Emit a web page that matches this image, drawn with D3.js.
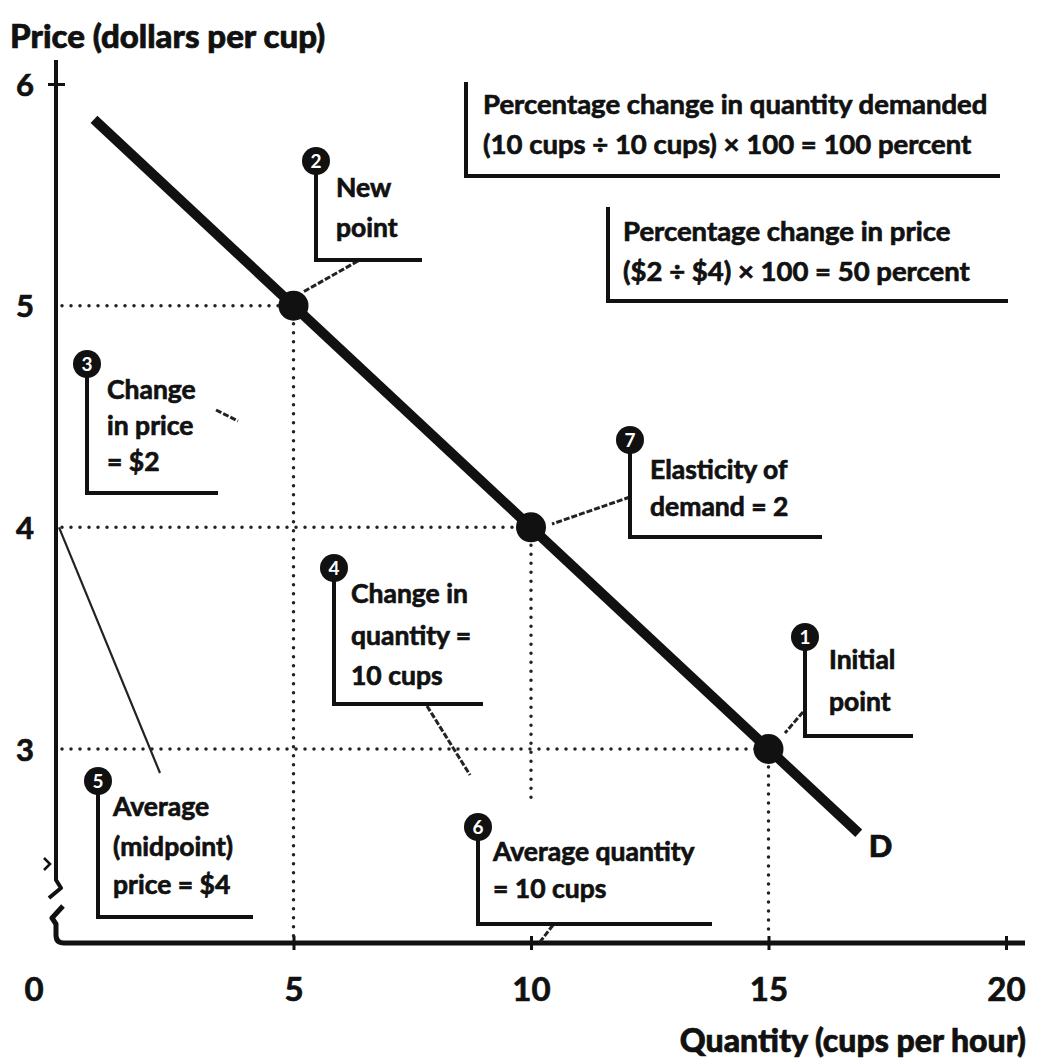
<!DOCTYPE html>
<html>
<head>
<meta charset="utf-8">
<script src="https://cdn.jsdelivr.net/npm/d3@7"></script>
<style>
  html, body { margin: 0; padding: 0; background: #fff; }
  svg text { font-family: Lato, "Open Sans", sans-serif; font-weight: 700; fill: #111; stroke: #111; stroke-width: 0.7px; }
</style>
</head>
<body>
<svg id="chart" width="1039" height="1063"></svg>
<script>
// ---------- data ----------
const xTickValues = [0, 5, 10, 15, 20];
const yTickValues = [3, 4, 5, 6];
const demandQuantity = [0.8, 16.9];      // cups per hour
const demandPrice = [5.84, 2.62];         // dollars per cup
const pointQuantity = [15, 5, 10];        // initial, new, midpoint
const pointPrice = [3, 5, 4];
const xTitle = "Quantity (cups per hour)";
const yTitle = "Price (dollars per cup)";
const demandLabel = "D";
const boxTexts = [
  ["Percentage change in quantity demanded", "(10 cups ÷ 10 cups) × 100 = 100 percent"],
  ["Percentage change in price", "($2 ÷ $4) × 100 = 50 percent"]
];
const calloutNumbers = ["1", "2", "3", "4", "5", "6", "7"];
const calloutTexts = [
  ["Initial", "point"],
  ["New", "point"],
  ["Change", "in price", "= $2"],
  ["Change in", "quantity =", "10 cups"],
  ["Average", "(midpoint)", "price = $4"],
  ["Average quantity", "= 10 cups"],
  ["Elasticity of", "demand = 2"]
];

// ---------- layout ----------
const svg = d3.select("#chart");
const x = d3.scaleLinear().domain([0, 20]).range([56, 1006]);
const y = d3.scaleLinear().domain([3, 6]).range([749, 84]);
const axisY = 943;     // x axis drawn on broken scale
const ink = "#111";

// axes
const g = svg.append("g");
g.append("path").attr("d", `M${x(0)},60 L${x(0)},880 L${x(0)+5},888 L${x(0)-7},898`)
  .attr("fill", "none").attr("stroke", ink).attr("stroke-width", 4).attr("stroke-linejoin", "round");
g.append("path").attr("d", `M${x(0)+7},906 L${x(0)-4},918 L${x(0)},924 L${x(0)},${axisY-8} Q${x(0)},${axisY} ${x(0)+8},${axisY} L1025,${axisY}`)
  .attr("fill", "none").attr("stroke", ink).attr("stroke-width", 5).attr("stroke-linejoin", "round");
g.append("path").attr("d", `M${x(0)-12},858 L${x(0)-6},864 L${x(0)-12},870`)
  .attr("fill", "none").attr("stroke", ink).attr("stroke-width", 2.5);

// x ticks
const xAxis = d3.axisBottom(x).tickValues(xTickValues.filter(d => d > 0)).tickSize(0).tickFormat(d3.format("d"));
const xa = g.append("g").attr("transform", `translate(0,${axisY})`).call(xAxis);
xa.select(".domain").remove();
xa.selectAll(".tick line").attr("y1", -7).attr("y2", 7).attr("stroke", ink).attr("stroke-width", 3);
xa.selectAll(".tick text").attr("dy", 0).attr("y", 58).style("font-size", "33px").style("font-family", "Lato, sans-serif").attr("fill", ink);
g.append("text").attr("x", x(0) - 22).attr("y", axisY + 58).attr("text-anchor", "middle").style("font-size", "33px").text(xTickValues[0]);

// y ticks
const yAxis = d3.axisLeft(y).tickValues(yTickValues).tickSize(0).tickFormat(d3.format("d"));
const ya = g.append("g").attr("transform", `translate(${x(0)},0)`).call(yAxis);
ya.select(".domain").remove();
ya.selectAll(".tick text").attr("x", -22).attr("dy", "0.36em").style("font-size", "31px").style("font-family", "Lato, sans-serif").attr("fill", ink);
ya.selectAll(".tick line").attr("x1", d => d === 6 ? -8 : 0).attr("x2", d => d === 6 ? 9 : 0).attr("stroke", ink).attr("stroke-width", 3);

// titles
svg.append("text").attr("x", 10).attr("y", 48).style("font-size", "33px").style("font-weight", 900).text(yTitle);
svg.append("text").attr("x", 1026).attr("y", 1052).attr("text-anchor", "end").style("font-size", "32px").style("font-weight", 900).text(xTitle);

// dotted guide lines
const dots = svg.append("g").attr("stroke", "#222").attr("stroke-width", 3.5).attr("stroke-linecap", "round").attr("stroke-dasharray", "0,9").attr("fill", "none");
pointQuantity.forEach((q, i) => {
  const p = pointPrice[i];
  dots.append("line").attr("x1", x(0) + 6).attr("x2", x(q)).attr("y1", y(p)).attr("y2", y(p));
  const bottom = q === 10 ? 800 : axisY - 6;
  dots.append("line").attr("x1", x(q)).attr("x2", x(q)).attr("y1", y(p)).attr("y2", bottom);
});

// demand curve
const line = d3.line().x(d => x(d[0])).y(d => y(d[1]));
svg.append("path").datum(demandQuantity.map((q, i) => [q, demandPrice[i]]))
  .attr("d", line).attr("stroke", ink).attr("stroke-width", 10).attr("fill", "none");
svg.append("text").attr("x", x(demandQuantity[1]) + 10).attr("y", y(demandPrice[1]) + 24)
  .style("font-size", "31px").style("font-weight", 900).text(demandLabel);

// points
svg.append("g").selectAll("circle").data(pointQuantity).join("circle")
  .attr("cx", d => x(d)).attr("cy", (d, i) => y(pointPrice[i])).attr("r", 15).attr("fill", ink);

// connectors
const conn = svg.append("g").attr("stroke", "#222").attr("stroke-width", 3).attr("fill", "none").attr("stroke-dasharray", "6,2");
const connectors = [
  [803, 712, 785, 733],
  [358, 261, 303, 292],
  [216, 410, 238, 421],
  [427, 706, 470, 775],
  [553, 925, 540, 942],
  [630, 497, 552, 524]
];
connectors.forEach(c => conn.append("line").attr("x1", c[0]).attr("y1", c[1]).attr("x2", c[2]).attr("y2", c[3]));
svg.append("line").attr("x1", x(0) + 3).attr("y1", y(4)).attr("x2", 160).attr("y2", 773)
  .attr("stroke", "#222").attr("stroke-width", 2.2);

// boxes at top
const boxes = [
  { x: 466, top: 82, bottom: 176, right: 1000, tx: 483, ty: [114, 154] },
  { x: 608, top: 207, bottom: 301, right: 1008, tx: 623, ty: [241, 281] }
];
boxes.forEach((b, i) => {
  svg.append("path").attr("d", `M${b.x},${b.top} L${b.x},${b.bottom} L${b.right},${b.bottom}`)
    .attr("fill", "none").attr("stroke", ink).attr("stroke-width", 4);
  boxTexts[i].forEach((t, k) => svg.append("text").attr("x", b.tx).attr("y", b.ty[k]).style("font-size", "27.5px").text(t));
});

// numbered callouts
const callouts = [
  { cx: 805, cy: 637, bottom: 736, right: 913, tx: 829, ty: [669, 711] },
  { cx: 316, cy: 161, bottom: 260, right: 422, tx: 336, ty: [197, 237] },
  { cx: 87, cy: 364, bottom: 493, right: 218, tx: 107, ty: [399, 435, 471] },
  { cx: 334, cy: 568, bottom: 704, right: 483, tx: 351, ty: [603, 645, 685] },
  { cx: 98, cy: 781, bottom: 917, right: 253, tx: 113, ty: [816, 856, 894] },
  { cx: 478, cy: 827, bottom: 924, right: 712, tx: 493, ty: [861, 898] },
  { cx: 630, cy: 440, bottom: 537, right: 822, tx: 650, ty: [479, 516] }
];
callouts.forEach((c, i) => {
  const cg = svg.append("g");
  cg.append("path").attr("d", `M${c.cx},${c.cy} L${c.cx},${c.bottom} L${c.right},${c.bottom}`)
    .attr("fill", "none").attr("stroke", ink).attr("stroke-width", 4);
  cg.append("circle").attr("cx", c.cx).attr("cy", c.cy).attr("r", 14).attr("fill", ink);
  cg.append("text").attr("x", c.cx).attr("y", c.cy + 7).attr("text-anchor", "middle")
    .style("font-size", "19px").style("fill", "#fff").style("stroke", "none").text(calloutNumbers[i]);
  calloutTexts[i].forEach((t, k) => cg.append("text").attr("x", c.tx).attr("y", c.ty[k]).style("font-size", "26.5px").text(t));
});
</script>
</body>
</html>
